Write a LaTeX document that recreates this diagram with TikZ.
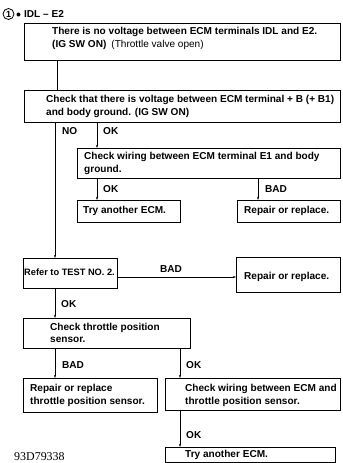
\documentclass[tikz,border=0pt]{standalone}
\usepackage{fontspec}
\setmainfont{Liberation Sans}
\newfontfamily\codefont{Liberation Serif}
\usetikzlibrary{arrows.meta}
\begin{document}
\begin{tikzpicture}[x=1bp,y=-1bp,
  box/.style={draw,line width=0.9bp,minimum width=0pt,minimum height=0pt,inner sep=0pt,rectangle},
  txt/.style={anchor=west,inner sep=0pt,font=\fontsize{10.1}{12}\selectfont\bfseries,align=left},
  lbl/.style={anchor=west,inner sep=0pt,font=\fontsize{10.1}{12}\selectfont\bfseries},
  conn/.style={line width=0.8bp,-{Stealth[length=3bp,width=2bp]}}]
\useasboundingbox (0,0) rectangle (342,463);

% heading
\node[circle,draw,line width=0.8bp,inner sep=0pt,minimum size=11bp,font=\fontsize{9}{9}\selectfont\bfseries] (num) at (8.5,14) {1};
\node[lbl] (head) at (16,14) {$\bullet$\hspace{3bp}IDL -- E2};

% boxes
\node[box,minimum width=316bp,minimum height=37bp,anchor=north west] (b1) at (24,23) {};
\node[box,minimum width=316bp,minimum height=32bp,anchor=north west] (b2) at (24,90) {};
\node[box,minimum width=263bp,minimum height=30bp,anchor=north west] (b3) at (77,148) {};
\node[box,minimum width=103bp,minimum height=22bp,anchor=north west] (b4) at (77,200) {};
\node[box,minimum width=103bp,minimum height=22bp,anchor=north west] (b5) at (237,200) {};
\node[box,minimum width=94bp,minimum height=30bp,anchor=north west] (b6) at (23,258) {};
\node[box,minimum width=104bp,minimum height=35bp,anchor=north west] (b7) at (236,257) {};
\node[box,minimum width=167bp,minimum height=30bp,anchor=north west] (b8) at (23,318) {};
\node[box,minimum width=134bp,minimum height=34bp,anchor=north west] (b9) at (23,378) {};
\node[box,minimum width=175bp,minimum height=32bp,anchor=north west] (b10) at (165,378) {};
\node[box,minimum width=170bp,minimum height=14.5bp,anchor=north west] (b11) at (165,447) {};

% box texts
\node[txt] (t1a) at (52,32) {There is no voltage between ECM terminals IDL and E2.};
\node[txt] (t1b) at (52,45) {(IG SW ON)\hspace{5bp}{\mdseries(Throttle valve open)}};
\node[txt] (t2a) at (46,100) {Check that there is voltage between ECM terminal + B (+ B1)};
\node[txt] (t2b) at (46,113) {and body ground. (IG SW ON)};
\node[txt] (t3a) at (84,157) {Check wiring between ECM terminal E1 and body};
\node[txt] (t3b) at (84,170) {ground.};
\node[txt] (t4) at (83,211) {Try another ECM.};
\node[txt] (t5) at (244,211) {Repair or replace.};
\node[txt,font=\fontsize{9.3}{11}\selectfont\bfseries] (t6) at (24,272) {Refer to TEST NO. 2.};
\node[txt] (t7) at (244,277) {Repair or replace.};
\node[txt] (t8a) at (50,328) {Check throttle position};
\node[txt] (t8b) at (50,340) {sensor.};
\node[txt] (t9a) at (30,389) {Repair or replace};
\node[txt] (t9b) at (30,402) {throttle position sensor.};
\node[txt] (t10a) at (185,389) {Check wiring between ECM and};
\node[txt] (t10b) at (185,402) {throttle position sensor.};
\node[txt] (t11) at (185,455) {Try another ECM.};

% connector columns
\coordinate (xa) at (57,0);
\coordinate (xb) at (55,0);
\coordinate (xc) at (97,0);
\coordinate (xd) at (258,0);
\coordinate (xe) at (180,0);
\coordinate (ya) at (0,277);

% connectors
\draw[line width=0.8bp] (xa |- b1.south) -- (xa |- b2.north);
\draw[conn] (xb |- b2.south) -- (xb |- b6.north);
\draw[conn] (xc |- b2.south) -- (xc |- b3.north);
\draw[conn] (xc |- b3.south) -- (xc |- b4.north);
\draw[conn] (xd |- b3.south) -- (xd |- b5.north);
\draw[conn] (b6.east |- ya) -- (b7.west |- ya);
\draw[conn] (xb |- b6.south) -- (xb |- b8.north);
\draw[conn] (xb |- b8.south) -- (xb |- b9.north);
\draw[conn] (xe |- b8.south) -- (xe |- b10.north);
\draw[conn] (xe |- b10.south) -- (xe |- b11.north);

% connector labels
\node[lbl] (l1) at (62,131) {NO};
\node[lbl] (l2) at (103,131) {OK};
\node[lbl] (l3) at (103,189) {OK};
\node[lbl] (l4) at (265,189) {BAD};
\node[lbl] (l5) at (160,269) {BAD};
\node[lbl] (l6) at (61,304) {OK};
\node[lbl] (l7) at (62,365) {BAD};
\node[lbl] (l8) at (186,365) {OK};
\node[lbl] (l9) at (186,435) {OK};

% figure code
\node[anchor=west,inner sep=0pt,font=\fontsize{12}{12}\selectfont\codefont] (code) at (14,457) {93D79338};
\end{tikzpicture}
\end{document}
